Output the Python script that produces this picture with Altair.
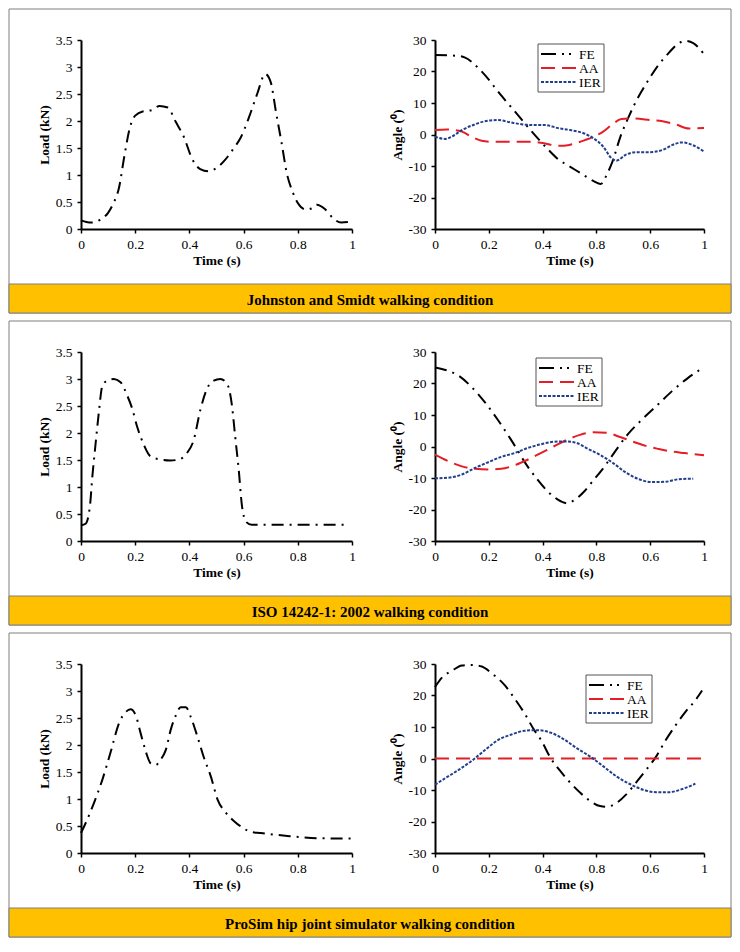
import altair as alt
import pandas as pd

FONT = "Liberation Serif"

# ---------------- data ----------------
# Panel 1: Johnston and Smidt
js_load_t = [0, 0.02, 0.04, 0.07, 0.1, 0.12, 0.14, 0.16, 0.18, 0.2, 0.23, 0.26, 0.29, 0.32, 0.35,
             0.38, 0.41, 0.44, 0.47, 0.5, 0.53, 0.56, 0.59, 0.62, 0.65, 0.68, 0.7, 0.72, 0.74,
             0.76, 0.78, 0.8, 0.83, 0.85, 0.87, 0.9, 0.93, 0.96, 0.99]
js_load_v = [0.16, 0.13, 0.12, 0.17, 0.3, 0.48, 0.76, 1.35, 1.87, 2.1, 2.18, 2.2, 2.28, 2.25, 1.98,
             1.7, 1.3, 1.11, 1.07, 1.13, 1.27, 1.47, 1.7, 2.07, 2.5, 2.87, 2.72, 2.15, 1.6,
             1.02, 0.7, 0.48, 0.36, 0.38, 0.45, 0.37, 0.2, 0.12, 0.13]
js_fe_t = [0, 0.08, 0.11, 0.17, 0.25, 0.31, 0.36, 0.42, 0.46, 0.49, 0.54, 0.59, 0.616, 0.64, 0.66,
           0.69, 0.72, 0.74, 0.77, 0.8, 0.83, 0.87, 0.9, 0.93, 0.96, 1.0]
js_fe_v = [25.2, 25, 24.5, 20.3, 12, 6, 0.9, -4.7, -8, -9.6, -12.2, -14.8, -15.7, -12.5, -8.5,
           -0.5, 5.6, 9.3, 14, 18.2, 22, 26, 28.6, 29.7, 29, 25.5]
js_aa_t = [0, 0.044, 0.1, 0.136, 0.173, 0.21, 0.3, 0.36, 0.405, 0.46, 0.5, 0.54, 0.59, 0.625,
           0.656, 0.693, 0.736, 0.8, 0.846, 0.895, 0.944, 1.0]
js_aa_v = [1.4, 1.6, 0.9, -0.7, -2, -2.3, -2.3, -2.3, -2.8, -3.6, -3.3, -2.3, -0.7, 0.9,
           3, 4.9, 5.1, 4.6, 4.2, 3.2, 1.9, 2.1]
js_ier_t = [0, 0.038, 0.062, 0.1, 0.148, 0.185, 0.234, 0.283, 0.326, 0.368, 0.41, 0.454, 0.503,
            0.552, 0.589, 0.625, 0.656, 0.674, 0.71, 0.748, 0.797, 0.846, 0.883, 0.919, 0.956, 1.0]
js_ier_v = [-0.7, -1.4, -0.7, 1.4, 3.2, 4.2, 4.6, 3.8, 3.2, 3.0, 3.0, 2.1, 1.4,
            0.4, -1.2, -3.8, -7.5, -8.3, -6.4, -5.6, -5.6, -4.9, -3.3, -2.5, -3.3, -5.4]

# Panel 2: ISO 14242-1: 2002
iso_load_t = [0, 0.017, 0.033, 0.042, 0.054, 0.066, 0.079, 0.097, 0.121, 0.146, 0.17, 0.189, 0.207,
              0.232, 0.256, 0.293, 0.33, 0.367, 0.391, 0.416, 0.44, 0.465, 0.49, 0.514, 0.539,
              0.557, 0.569, 0.582, 0.594, 0.61, 0.63, 0.7, 0.82, 0.98]
iso_load_v = [0.29, 0.32, 0.65, 1.2, 1.81, 2.39, 2.88, 2.97, 3.0, 2.94, 2.7, 2.45, 2.12,
              1.78, 1.57, 1.51, 1.49, 1.52, 1.63, 1.87, 2.42, 2.82, 2.97, 3.0, 2.91,
              2.51, 1.93, 1.32, 0.65, 0.35, 0.3, 0.3, 0.3, 0.3]
iso_fe_t = [0, 0.05, 0.088, 0.137, 0.185, 0.234, 0.283, 0.344, 0.38, 0.417, 0.454, 0.49, 0.515,
            0.551, 0.588, 0.62, 0.648, 0.715, 0.77, 0.832, 0.88, 0.941, 1.0]
iso_fe_v = [25.1, 24, 22.5, 18.8, 14.1, 8.4, 2.1, -6.3, -10.4, -14.1, -16.7, -18, -17.2,
            -14.6, -10.8, -7.5, -4.2, 3.7, 8.6, 13.6, 17.5, 21.8, 25.2]
iso_aa_t = [0, 0.05, 0.1, 0.149, 0.198, 0.246, 0.295, 0.344, 0.393, 0.441, 0.49, 0.539, 0.588,
            0.637, 0.685, 0.734, 0.783, 0.832, 0.88, 0.929, 1.0]
iso_aa_v = [-2.6, -4.7, -6.3, -7.1, -7.3, -7.1, -6, -4.2, -2.1, 0, 2.1, 3.7, 4.5,
            4.4, 3.1, 1.6, 0.2, -0.8, -1.6, -2.1, -2.8]
iso_ier_t = [0, 0.05, 0.1, 0.149, 0.198, 0.246, 0.295, 0.344, 0.393, 0.441, 0.49, 0.527, 0.563,
             0.612, 0.661, 0.71, 0.759, 0.807, 0.856, 0.905, 0.96]
iso_ier_v = [-10.1, -9.9, -8.9, -6.8, -5, -3.3, -2.1, -0.5, 0.7, 1.5, 1.6, 1.1, -0.5,
             -2.6, -5.2, -8.3, -10.4, -11.3, -11.2, -10.4, -10.2]

# Panel 3: ProSim hip joint simulator
ps_load_t = [0, 0.023, 0.048, 0.079, 0.11, 0.14, 0.165, 0.183, 0.202, 0.22, 0.239, 0.257, 0.276,
             0.294, 0.313, 0.331, 0.35, 0.368, 0.387, 0.405, 0.43, 0.454, 0.479, 0.504, 0.534,
             0.565, 0.596, 0.627, 0.664, 0.713, 0.775, 0.849, 0.922, 1.0]
ps_load_v = [0.37, 0.62, 0.93, 1.36, 1.88, 2.4, 2.61, 2.66, 2.55, 2.22, 1.88, 1.66, 1.63,
             1.73, 1.91, 2.28, 2.55, 2.7, 2.7, 2.52, 2.15, 1.76, 1.42, 0.99, 0.75,
             0.59, 0.47, 0.39, 0.37, 0.34, 0.31, 0.28, 0.27, 0.27]
ps_fe_t = [0, 0.027, 0.064, 0.1, 0.137, 0.174, 0.21, 0.26, 0.296, 0.333, 0.369, 0.394, 0.43,
           0.467, 0.504, 0.54, 0.577, 0.614, 0.638, 0.675, 0.711, 0.748, 0.785, 0.822, 0.858,
           0.895, 0.931, 0.968, 0.993]
ps_fe_v = [22.7, 25.8, 27.9, 29.5, 29.7, 29.2, 27.1, 23.2, 19, 14.3, 9, 5.9, 0.1,
           -4.1, -7.8, -10.9, -13.5, -15.1, -15.3, -14.1, -11.4, -7.6, -3.6, 0.6, 5.9,
           10.6, 14.8, 18.5, 21.6]
ps_aa_t = [0, 0.5, 1.0]
ps_aa_v = [0, 0, 0]
ps_ier_t = [0, 0.039, 0.088, 0.137, 0.186, 0.235, 0.284, 0.333, 0.381, 0.43, 0.479, 0.528, 0.577,
            0.626, 0.675, 0.724, 0.773, 0.822, 0.87, 0.919, 0.968]
ps_ier_v = [-8.3, -6.2, -3.6, -0.7, 2.7, 5.9, 7.6, 8.8, 9, 8.2, 6.1, 3.2, 0.6,
            -2.5, -5.7, -8.1, -9.9, -10.7, -10.7, -9.7, -8]

captions = ["Johnston and Smidt walking condition",
            "ISO 14242-1: 2002 walking condition",
            "ProSim hip joint simulator walking condition"]

time_ticks = [0, 0.2, 0.4, 0.6, 0.8, 1]
load_ticks = [0, 0.5, 1, 1.5, 2, 2.5, 3, 3.5]
angle_ticks = [-30, -20, -10, 0, 10, 20, 30]
series_names = ["FE", "AA", "IER"]
series_colors = ["#000000", "#E41E26", "#203E8C"]
series_dashes = [[12, 6, 2, 6], [14, 7], [3, 1.5]]
legend_dashes = [[15, 6, 2, 5, 2, 10], [14, 7], [3, 1.5]]

# ---------------- layout constants (pixels) ----------------
LW, RW, PH = 271, 269, 189
COL_GAP, ROW_GAP = 83, 123
BOX_L, BOX_R, BOX_T, BOX_B = -72, 650, -31, 273
CAP_T = 244
legend_pos = [(103, 4), (101, 6), (151, 11)]
LEG_W, LEG_H, LEG_ROW = 66, 48, 14

NUM_EXPR = "'' + datum.value"
SWAP_EXPR = ("abs(datum.value - 0.6) < 0.001 ? '0.8' : "
             "abs(datum.value - 0.8) < 0.001 ? '0.6' : '' + datum.value")


def time_axis(swap):
    return alt.Axis(values=time_ticks, title="Time (s)", labelExpr=SWAP_EXPR if swap else NUM_EXPR,
                    labelFlush=False, labelPadding=4, titlePadding=3)


def make_left(t, v, caption):
    df = pd.DataFrame({"Time": t, "Load": v})
    line = alt.Chart(df).mark_line(color="black", strokeWidth=2, strokeDash=series_dashes[0],
                                   interpolate="monotone").encode(
        x=alt.X("Time:Q", scale=alt.Scale(domain=[0, 1], nice=False, zero=False), axis=time_axis(False)),
        y=alt.Y("Load:Q", scale=alt.Scale(domain=[0, 3.5], nice=False),
                axis=alt.Axis(values=load_ticks, title="Load (kN)", labelExpr=NUM_EXPR,
                              labelPadding=5, titlePadding=4)),
    )
    cap_df = pd.DataFrame({"caption": [caption]})
    box = alt.Chart(cap_df).mark_rect(fillOpacity=0, stroke="#7f7f7f", strokeWidth=1).encode(
        x=alt.value(BOX_L), x2=alt.value(BOX_R), y=alt.value(BOX_T), y2=alt.value(BOX_B))
    bar = alt.Chart(cap_df).mark_rect(fill="#FFC000", stroke="#7f7f7f", strokeWidth=1).encode(
        x=alt.value(BOX_L), x2=alt.value(BOX_R), y=alt.value(CAP_T), y2=alt.value(BOX_B))
    txt = alt.Chart(cap_df).mark_text(font=FONT, fontSize=15, fontWeight="bold", color="black",
                                      align="center", baseline="middle").encode(
        x=alt.value((BOX_L + BOX_R) / 2), y=alt.value((CAP_T + BOX_B) / 2 + 1), text="caption:N")
    return alt.layer(box, bar, txt, line).properties(width=LW, height=PH)


def make_right(fe, aa, ier, lpos):
    rows = []
    for name, (ts, vs) in zip(series_names, [fe, aa, ier]):
        for a, b in zip(ts, vs):
            rows.append({"Time": a, "Angle": b, "Series": name})
    df = pd.DataFrame(rows)
    lines = alt.Chart(df).mark_line(strokeWidth=2, interpolate="monotone").encode(
        x=alt.X("Time:Q", scale=alt.Scale(domain=[0, 1], nice=False, zero=False), axis=time_axis(True)),
        y=alt.Y("Angle:Q", scale=alt.Scale(domain=[-30, 30], nice=False),
                axis=alt.Axis(values=angle_ticks, title="Angle (⁰)", labelExpr=NUM_EXPR,
                              labelPadding=5, titlePadding=4)),
        color=alt.Color("Series:N", scale=alt.Scale(domain=series_names, range=series_colors), legend=None),
        strokeDash=alt.StrokeDash("Series:N", scale=alt.Scale(domain=series_names, range=series_dashes),
                                  legend=None),
        detail="Series:N",
    )
    lx, ly = lpos
    layers = [lines]
    frame = alt.Chart(pd.DataFrame({"Series": series_names[:1]})).mark_rect(
        fill="white", stroke="#555555", strokeWidth=1).encode(
        x=alt.value(lx), x2=alt.value(lx + LEG_W), y=alt.value(ly), y2=alt.value(ly + LEG_H))
    layers.append(frame)
    for i, name in enumerate(series_names):
        one = pd.DataFrame({"Series": [name]})
        yy = ly + 10 + LEG_ROW * i
        layers.append(alt.Chart(one).mark_rule(color=series_colors[i], strokeWidth=2,
                                               strokeDash=legend_dashes[i]).encode(
            x=alt.value(lx + 3), x2=alt.value(lx + 38), y=alt.value(yy)))
        layers.append(alt.Chart(one).mark_text(font=FONT, fontSize=13.5, color="black",
                                               align="left", baseline="middle").encode(
            x=alt.value(lx + 41), y=alt.value(yy + 0.5), text="Series:N"))
    return alt.layer(*layers).properties(width=RW, height=PH)


charts = [
    make_left(js_load_t, js_load_v, captions[0]),
    make_right((js_fe_t, js_fe_v), (js_aa_t, js_aa_v), (js_ier_t, js_ier_v), legend_pos[0]),
    make_left(iso_load_t, iso_load_v, captions[1]),
    make_right((iso_fe_t, iso_fe_v), (iso_aa_t, iso_aa_v), (iso_ier_t, iso_ier_v), legend_pos[1]),
    make_left(ps_load_t, ps_load_v, captions[2]),
    make_right((ps_fe_t, ps_fe_v), (ps_aa_t, ps_aa_v), (ps_ier_t, ps_ier_v), legend_pos[2]),
]

chart = alt.concat(*charts, columns=2, bounds="flush",
                   spacing=alt.RowColnumber(row=ROW_GAP, column=COL_GAP)
).properties(padding=0, background="white").configure_view(
    strokeWidth=0
).configure_axis(
    grid=False, domainColor="black", domainWidth=2, tickColor="black", tickWidth=1.5, tickSize=4,
    labelFont=FONT, labelFontSize=13.5, labelColor="black",
    titleFont=FONT, titleFontSize=13.5, titleFontWeight="bold", titleColor="black",
)

chart.save("out.html", embed_options={"renderer": "svg", "actions": False})
